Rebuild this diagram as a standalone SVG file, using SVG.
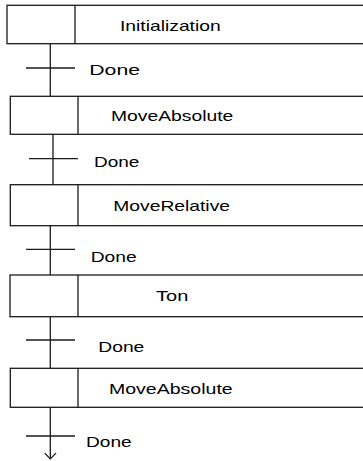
<svg xmlns="http://www.w3.org/2000/svg" width="363" height="461" viewBox="0 0 363 461">
  <style>
    .box { fill: #ffffff; stroke: #1a1a1a; stroke-width: 1.3; }
    .div { stroke: #1a1a1a; stroke-width: 1.3; }
    .link { stroke: #1a1a1a; stroke-width: 1.3; fill: none; }
    .tick { stroke: #1a1a1a; stroke-width: 1.3; }
    .lbl { font-family: "Liberation Sans", Arial, sans-serif; font-size: 15px; fill: #000000; }
  </style>
  <defs>
    <!-- open chevron, drawn pointing along +x so orient="auto" turns it with the line -->
    <marker id="openArrow" markerWidth="8" markerHeight="13" refX="6.5" refY="6.5" markerUnits="userSpaceOnUse" orient="auto" viewBox="0 0 8 13">
      <path d="M0.5,0.8 L6.5,6.5 L0.5,12.2" fill="none" stroke="#1a1a1a" stroke-width="1.2"/>
    </marker>
  </defs>

  <rect width="363" height="461" fill="#ffffff"/>

  <!-- connectors with transition ticks -->
  <g id="connectors">
    <line class="link" x1="50.3" y1="43.7" x2="50.3" y2="96.3"/>
    <line class="tick" x1="26" y1="68" x2="75" y2="68"/>
    <text class="lbl" x="89.3" y="75" textLength="50.7" lengthAdjust="spacingAndGlyphs">Done</text>

    <line class="link" x1="53" y1="134.3" x2="53" y2="184.7"/>
    <line class="tick" x1="29" y1="158.7" x2="78" y2="158.7"/>
    <text class="lbl" x="94" y="167.3" textLength="45.3" lengthAdjust="spacingAndGlyphs">Done</text>

    <line class="link" x1="50.3" y1="225.7" x2="50.3" y2="275"/>
    <line class="tick" x1="26" y1="249.3" x2="75" y2="249.3"/>
    <text class="lbl" x="90.7" y="261.7" textLength="46" lengthAdjust="spacingAndGlyphs">Done</text>

    <line class="link" x1="50.3" y1="316.7" x2="50.3" y2="368.3"/>
    <line class="tick" x1="26" y1="340" x2="75" y2="340"/>
    <text class="lbl" x="98.3" y="352.3" textLength="46" lengthAdjust="spacingAndGlyphs">Done</text>

    <line class="link" x1="50.3" y1="407.3" x2="50.3" y2="459" marker-end="url(#openArrow)"/>
    <line class="tick" x1="26" y1="436" x2="75" y2="436"/>
    <text class="lbl" x="86" y="446.7" textLength="45.7" lengthAdjust="spacingAndGlyphs">Done</text>
  </g>

  <!-- steps -->
  <g id="step-initialization">
    <rect class="box" x="7" y="5.3" width="370" height="38.4"/>
    <line class="div" x1="75" y1="5.3" x2="75" y2="43.7"/>
    <text class="lbl" x="120" y="30.7" textLength="100.7" lengthAdjust="spacingAndGlyphs">Initialization</text>
  </g>

  <g id="step-moveabsolute-1">
    <rect class="box" x="10.3" y="96.3" width="370" height="38"/>
    <line class="div" x1="78" y1="96.3" x2="78" y2="134.3"/>
    <text class="lbl" x="111" y="121" textLength="122.3" lengthAdjust="spacingAndGlyphs">MoveAbsolute</text>
  </g>

  <g id="step-moverelative">
    <rect class="box" x="10.3" y="184.7" width="370" height="41"/>
    <line class="div" x1="78" y1="184.7" x2="78" y2="225.7"/>
    <text class="lbl" x="113.3" y="210.7" textLength="116.7" lengthAdjust="spacingAndGlyphs">MoveRelative</text>
  </g>

  <g id="step-ton">
    <rect class="box" x="10" y="275" width="370" height="41.7"/>
    <line class="div" x1="78" y1="275" x2="78" y2="316.7"/>
    <text class="lbl" x="156" y="300.7" textLength="32.3" lengthAdjust="spacingAndGlyphs">Ton</text>
  </g>

  <g id="step-moveabsolute-2">
    <rect class="box" x="10.3" y="368.3" width="370" height="39"/>
    <line class="div" x1="78" y1="368.3" x2="78" y2="407.3"/>
    <text class="lbl" x="109" y="393.7" textLength="123.7" lengthAdjust="spacingAndGlyphs">MoveAbsolute</text>
  </g>
</svg>
